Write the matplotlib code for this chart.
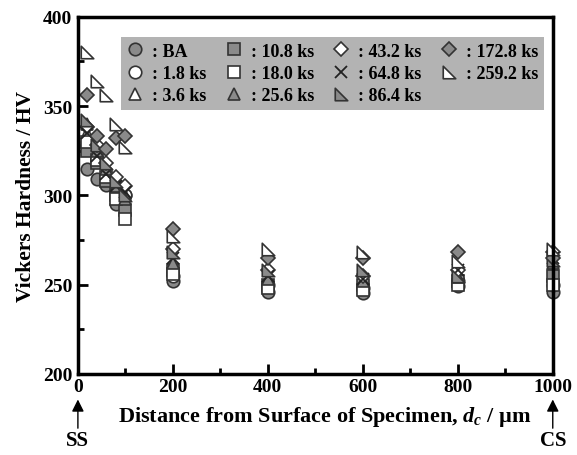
import matplotlib.pyplot as plt
import numpy as np
from matplotlib.path import Path
from matplotlib.transforms import blended_transform_factory

plt.rcParams['font.family'] = 'Liberation Serif'
plt.rcParams['font.weight'] = 'bold'
plt.rcParams['mathtext.fontset'] = 'custom'
plt.rcParams['mathtext.it'] = 'Liberation Serif:italic:bold'
plt.rcParams['mathtext.rm'] = 'Liberation Serif:bold'

# distance from surface, um
dist = [20, 40, 60, 80, 100, 200, 400, 600, 800, 1000]

hv_ba = [315, 309, 306, 295, 300, 252, 246, 245, 249, 246]
hv_1_8 = [330, 320, 310, 305, 300, 255, 250, 248, 252, 250]
hv_3_6 = [335, 325, 315, 305, 300, 260, 252, 250, 255, 255]
hv_10_8 = [325, 318, 308, 300, 292, 258, 250, 250, 252, 255]
hv_18_0 = [330, 320, 310, 298, 287, 256, 248, 247, 250, 250]
hv_25_6 = [340, 325, 315, 305, 298, 262, 253, 252, 254, 262]
hv_43_2 = [338, 328, 318, 310, 305, 270, 258, 255, 258, 268]
hv_64_8 = [335, 322, 312, 305, 302, 265, 255, 253, 258, 265]
hv_86_4 = [342, 328, 318, 308, 300, 268, 258, 258, 255, 264]
hv_172_8 = [356, 333, 326, 332, 333, 281, 265, 265, 268, 265]
hv_259_2 = [380, 364, 356, 340, 327, 277, 270, 268, 263, 270]

labels = [': BA', ': 1.8 ks', ': 3.6 ks', ': 10.8 ks', ': 18.0 ks', ': 25.6 ks',
          ': 43.2 ks', ': 64.8 ks', ': 86.4 ks', ': 172.8 ks', ': 259.2 ks']
series = [hv_ba, hv_1_8, hv_3_6, hv_10_8, hv_18_0, hv_25_6,
          hv_43_2, hv_64_8, hv_86_4, hv_172_8, hv_259_2]

# right-angle triangle marker (right angle lower left)
rtri = Path([(-1, -1), (1, -1), (-1, 1), (-1, -1)],
            [Path.MOVETO, Path.LINETO, Path.LINETO, Path.CLOSEPOLY])

gray = '#8a8a8a'
edge = '#333333'
styles = [
    ('o', gray), ('o', 'white'), ('^', 'white'),
    ('s', gray), ('s', 'white'), ('^', gray),
    ('D', 'white'), ('x', None), (rtri, gray),
    ('D', gray), (rtri, 'white'),
]

fig = plt.figure(figsize=(5.77, 4.56), dpi=100)
ax = fig.add_axes([0.135, 0.178, 0.823, 0.783])

for vals, lab, (m, fc) in zip(series, labels, styles):
    size = 9
    if m == 'D':
        size = 7
    if m == 'x':
        ax.plot(dist, vals, linestyle='none', marker='x', markersize=9,
                color='#222222', markeredgewidth=1.3, label=lab, clip_on=False)
    else:
        ax.plot(dist, vals, linestyle='none', marker=m, markersize=size,
                markerfacecolor=fc, markeredgecolor=edge, markeredgewidth=1.2,
                label=lab, clip_on=False)

ax.set_xlim(0, 1000)
ax.set_ylim(200, 400)
ax.set_xticks(np.arange(0, 1001, 200))
ax.set_xticks(np.arange(0, 1001, 100), minor=True)
ax.set_yticks(np.arange(200, 401, 50))
ax.set_yticks(np.arange(200, 401, 25), minor=True)
ax.tick_params(which='both', direction='in', width=2, labelsize=14)
ax.tick_params(which='major', length=7)
ax.tick_params(which='minor', length=4)
ax.tick_params(axis='x', pad=3)
ax.tick_params(axis='y', pad=4)
for sp in ax.spines.values():
    sp.set_linewidth(2.5)

ax.set_ylabel('Vickers Hardness / HV', fontsize=15.5, fontweight='bold', labelpad=5)
ax.set_xlabel('Distance from Surface of Specimen, $d_c$ / \u00b5m', fontsize=16,
              fontweight='bold')
ax.xaxis.set_label_coords(0.52, -0.085)
ax.xaxis.label.set_va('top')

leg = ax.legend(ncol=4, loc='upper right', bbox_to_anchor=(1.0, 0.968),
                frameon=True, fancybox=False, handletextpad=0.45,
                columnspacing=1.0, labelspacing=0.3, borderpad=0.3,
                handlelength=1.0, prop={'weight': 'bold', 'size': 13})
leg.get_frame().set_facecolor('#b3b3b3')
leg.get_frame().set_edgecolor('none')
leg.get_frame().set_alpha(1)

trans = blended_transform_factory(ax.transData, ax.transAxes)
for xpos, txt in [(0, 'SS'), (1000, 'CS')]:
    ax.annotate('', xy=(xpos, -0.064), xytext=(xpos, -0.16), xycoords=trans,
                textcoords=trans, annotation_clip=False,
                arrowprops=dict(arrowstyle='-|>', color='black', lw=1,
                                mutation_scale=18))
    ax.text(xpos, -0.158, txt, transform=trans, ha='center', va='top',
            fontsize=15, fontweight='bold')

fig.savefig('out.png', dpi=100)
